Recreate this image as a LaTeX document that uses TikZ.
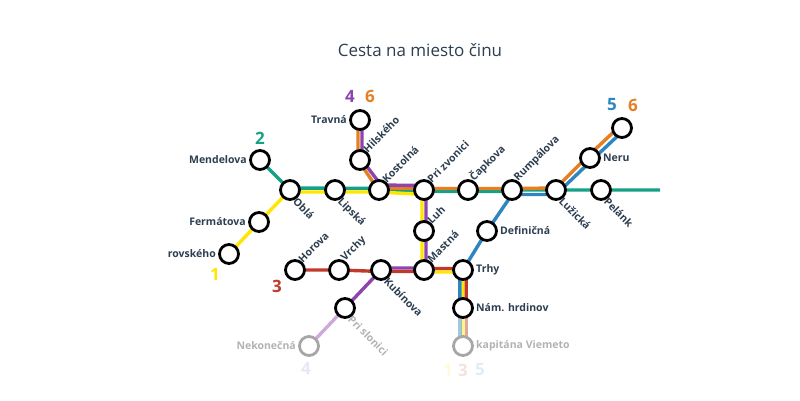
\documentclass[tikz,border=0pt]{standalone}
\usepackage{fontspec}
\setmainfont{Open Sans}
\begin{document}
\begin{tikzpicture}[x=1pt,y=-1pt,
  ln/.style={line width=3.4pt},
  st/.style={circle,draw=black,fill=white,line width=2.8pt,minimum size=19pt,inner sep=0pt},
  fst/.style={st,draw=gray!70},
  lb/.style={font=\bfseries\fontsize{10.5}{11}\selectfont,text=slate,inner sep=1pt},
  flb/.style={lb,text=gray!60},
  num/.style={font=\bfseries\fontsize{17}{17}\selectfont,inner sep=0pt}]
\definecolor{slate}{HTML}{2C3E50}
\definecolor{cY}{HTML}{FFE600}
\definecolor{cG}{HTML}{16A085}
\definecolor{cR}{HTML}{C0392B}
\definecolor{cP}{HTML}{8E44AD}
\definecolor{cB}{HTML}{2E86C1}
\definecolor{cO}{HTML}{E67E22}
\useasboundingbox (0,0) rectangle (800,400);
\node[font=\fontsize{17}{18}\selectfont,text=slate] (title) at (420,50) {Cesta na miesto činu};
\begin{scope}
\clip (163,60) rectangle (660,400);
\coordinate (men) at (260,160); \coordinate (obl) at (290,190);
\coordinate (lip) at (335,190); \coordinate (kos) at (379,190);
\coordinate (zvo) at (424,190); \coordinate (cap) at (468,190);
\coordinate (rum) at (512,190); \coordinate (luz) at (556,190);
\coordinate (pel) at (601,190); \coordinate (ner) at (590,158);
\coordinate (top) at (622,128); \coordinate (tra) at (360,120);
\coordinate (hil) at (360,160); \coordinate (fer) at (259,222);
\coordinate (rov) at (229,254); \coordinate (hor) at (295,270);
\coordinate (vrc) at (339,270); \coordinate (kub) at (381,270);
\coordinate (mas) at (424,270); \coordinate (trh) at (463,270);
\coordinate (luh) at (424,231); \coordinate (def) at (487,231);
\coordinate (nam) at (463,308); \coordinate (kap) at (463,346);
\coordinate (slo) at (345,308); \coordinate (nek) at (309,346);
\coordinate (e1) at (700,190);
% green 2
\draw[ln,cG] (men) -- (obl) -- ([yshift=2]obl) -- ([yshift=1.5]kos) -- ([yshift=-1.5]kos) -- ([yshift=-1.5]zvo) -- ([yshift=-1.5]rum) -- (rum) -- (luz) -- (e1);
% yellow 1
\draw[ln,cY] (rov) -- (fer) -- (obl) -- ([yshift=-2]obl) -- ([yshift=-2]kos) -- ([yshift=-4.5]zvo) -- ([xshift=-2]zvo) -- ([xshift=-2]mas) -- ([yshift=-2]mas) -- ([yshift=-2]trh) -- (trh) -- (nam);
\draw[ln,cY,opacity=.45] (nam) -- (kap);
% orange 6
\draw[ln,cO] ([xshift=-2]tra) -- ([xshift=-2]hil) -- ([xshift=-2,yshift=2]kos) -- ([yshift=2]kos) -- ([yshift=1.5]zvo) -- ([yshift=1.5]rum) -- ([yshift=2]luz) -- ([xshift=-2,yshift=2]ner) -- ([xshift=-2,yshift=2]top);
% purple 4
\draw[ln,cP] ([xshift=2]tra) -- ([xshift=2]hil) -- ([xshift=2,yshift=5]kos) -- ([yshift=5]kos) -- ([yshift=4.5]zvo) -- ([xshift=2]zvo) -- ([xshift=2]mas) -- ([yshift=2]mas) -- ([yshift=2]kub) -- (kub) -- (slo);
\draw[ln,cP,opacity=.45] (slo) -- (nek);
% red 3
\draw[ln,cR] (hor) -- (vrc) -- ([yshift=-1.5]kub) -- ([yshift=-1.5]mas) -- ([yshift=1.5]mas) -- ([yshift=1.5]trh) -- ([xshift=3.2]trh) -- ([xshift=3.2]nam);
\draw[ln,cR,opacity=.45] ([xshift=3.2]nam) -- ([xshift=3.2]kap);
% blue 5
\draw[ln,cB] ([xshift=-3.2]nam) -- ([xshift=-3.2]trh) -- (trh) -- (def) -- ([yshift=-4.5]rum) -- ([yshift=-4.5]luz) -- ([xshift=2,yshift=-2]ner) -- ([xshift=2,yshift=-2]top);
\draw[ln,cB,opacity=.45] ([xshift=-3.2]nam) -- ([xshift=-3.2]kap);
% stations
\foreach \c in {men,obl,lip,kos,zvo,cap,rum,luz,pel,ner,top,tra,hil,fer,rov,hor,vrc,kub,mas,trh,luh,def,nam,slo}
  \node[st] (s\c) at (\c) {};
\node[fst] (skap) at (kap) {};
\node[fst] (snek) at (nek) {};
% labels
\node[lb,anchor=east] (lmen) at ([xshift=-12]men) {Mendelova};
\node[lb,anchor=east] (ltra) at ([xshift=-12]tra) {Travná};
\node[lb,anchor=east] (lfer) at ([xshift=-12]fer) {Fermátova};
\node[lb,anchor=east] (lrov) at ([xshift=-12]rov) {rovského};
\node[flb,anchor=east] (lnek) at ([xshift=-12]nek) {Nekonečná};
\node[lb,anchor=west] (ldef) at ([xshift=12]def) {Definičná};
\node[lb,anchor=west] (ltrh) at ([xshift=12]trh) {Trhy};
\node[lb,anchor=west] (lnam) at ([xshift=12]nam) {Nám. hrdinov};
\node[flb,anchor=west] (lkap) at ([xshift=12]kap) {kapitána Viemeto};
\node[lb,anchor=west] (lner) at ([xshift=12]ner) {Neru};
\foreach \c/\t in {hil/Hilského,kos/Kostolná,zvo/Pri zvonici,cap/Čapkova,rum/Rumpálova,hor/Horova,vrc/Vrchy,luh/Luh,mas/Mastná}
  \node[lb,anchor=south west,rotate=45] (l\c) at ([xshift=8,yshift=5]\c) {\t};
\foreach \c/\t in {obl/Oblá,lip/Lipská,kub/Kubínova,luz/Lužická,pel/Pelánk}
  \node[lb,anchor=north west,rotate=-45] (l\c) at ([xshift=8,yshift=-5]\c) {\t};
\node[flb,anchor=north west,rotate=-45] (lslo) at ([xshift=8,yshift=-5]slo) {Pri slonici};
% line numbers
\node[num,cG] (n2) at (260,138) {2};
\node[num,cP] (n4) at (350,96) {4};
\node[num,cO] (n6) at (370,96) {6};
\node[num,cY] (n1) at (215,274) {1};
\node[num,cR] (n3) at (277,286) {3};
\node[num,cB] (n5) at (612,105) {5};
\node[num,cO] (n6b) at (633,105) {6};
\node[num,cP,opacity=.15] (n4b) at (306,368) {4};
\node[num,cY,opacity=.15] (n1b) at (448,370) {1};
\node[num,cR,opacity=.15] (n3b) at (463,370) {3};
\node[num,cB,opacity=.15] (n5b) at (480,370) {5};
\end{scope}
\end{tikzpicture}
\end{document}
